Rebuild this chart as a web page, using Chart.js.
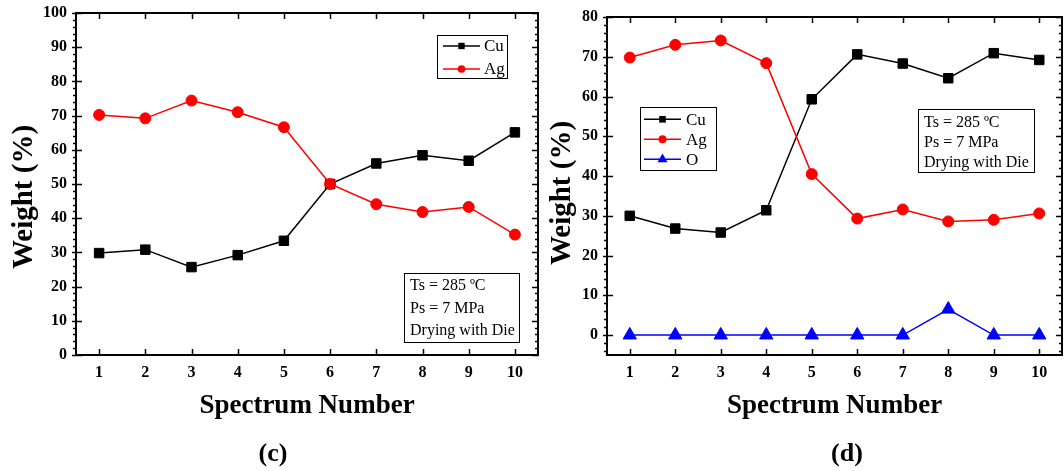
<!DOCTYPE html>
<html>
<head>
<meta charset="utf-8">
<script src="https://cdn.jsdelivr.net/npm/chart.js@4.4.1/dist/chart.umd.min.js"></script>
<style>
  html, body { margin: 0; padding: 0; background: #fff; }
  #wrap { position: relative; width: 1064px; height: 471px; overflow: hidden; background: #fff; }
  canvas { position: absolute; top: 0; }
</style>
</head>
<body>
<div id="wrap">
  <canvas id="chartC" width="540" height="471" style="left:0px"></canvas>
  <canvas id="chartD" width="524" height="471" style="left:540px"></canvas>
</div>
<script>
// Spectrum positions along the sample
const spectrumNumbers = ['1', '2', '3', '4', '5', '6', '7', '8', '9', '10'];

// Panel (c): element weight fractions (%)
const cuC = [29.8, 30.8, 25.7, 29.2, 33.4, 50.0, 56.0, 58.4, 56.8, 65.1];
const agC = [70.2, 69.2, 74.4, 71.0, 66.6, 50.0, 44.1, 41.8, 43.3, 35.2];

// Panel (d): element weight fractions (%)
const cuD = [30.0, 26.8, 25.8, 31.4, 59.3, 70.6, 68.3, 64.6, 70.9, 69.2];
const agD = [69.8, 73.0, 74.1, 68.4, 40.5, 29.3, 31.6, 28.6, 29.0, 30.6];
const oD  = [0, 0, 0, 0, 0, 0, 0, 6.5, 0, 0];

// Y-axis tick labels
const yTicksC = [0, 10, 20, 30, 40, 50, 60, 70, 80, 90, 100];
const yTicksD = [0, 10, 20, 30, 40, 50, 60, 70, 80];

// Process conditions note
const conditionLines = ['Ts = 285 \u00BAC', 'Ps = 7 MPa', 'Drying with Die'];

const SERIF = '"Liberation Serif", "Times New Roman", Times, serif';

function drawMarker(ctx, style, r, x, y) {
  ctx.beginPath();
  if (style === 'rect') {
    const s = r * Math.SQRT1_2;
    ctx.rect(x - s, y - s, 2 * s, 2 * s);
  } else if (style === 'triangle') {
    ctx.moveTo(x, y - r);
    ctx.lineTo(x + r * Math.sin(2 * Math.PI / 3), y + r / 2);
    ctx.lineTo(x - r * Math.sin(2 * Math.PI / 3), y + r / 2);
    ctx.closePath();
  } else {
    ctx.arc(x, y, r, 0, Math.PI * 2);
  }
  ctx.fill();
}

function line(ctx, x0, y0, x1, y1) {
  ctx.beginPath();
  ctx.moveTo(x0, y0);
  ctx.lineTo(x1, y1);
  ctx.stroke();
}

// Frame, tick marks, titles, legend box and notes box
const panelDecor = {
  id: 'panelDecor',
  beforeDatasetsDraw(chart, args, o) {
    const ctx = chart.ctx;
    const { left, right, top, bottom } = chart.chartArea;
    const xs = chart.scales.x, ys = chart.scales.y;
    ctx.save();
    ctx.strokeStyle = '#000';
    ctx.lineWidth = 1.5;
    xs.ticks.forEach((t, i) => {
      const px = Math.round(xs.getPixelForTick(i)) + 0.5;
      line(ctx, px, bottom, px, bottom - 6);
      line(ctx, px, top, px, top + 6);
    });
    const majors = ys.ticks.map(t => t.value);
    majors.forEach(v => {
      const py = Math.round(ys.getPixelForValue(v)) + 0.5;
      line(ctx, left - 4, py, left + 6, py);
      line(ctx, right - 6, py, right, py);
    });
    const step = o.minorStep;
    for (let v = Math.ceil(ys.min / step) * step; v <= ys.max + 1e-9; v += step) {
      if (majors.some(m => Math.abs(m - v) < 1e-6)) continue;
      const py = Math.round(ys.getPixelForValue(v)) + 0.5;
      line(ctx, left - 3, py, left, py);
      line(ctx, right - 3, py, right, py);
    }
    ctx.lineWidth = 2;
    ctx.strokeRect(left, top, right - left, bottom - top);
    ctx.restore();
  },
  afterDraw(chart, args, o) {
    const ctx = chart.ctx;
    const { left, right } = chart.chartArea;
    ctx.save();
    ctx.fillStyle = '#000';

    // axis titles
    ctx.font = 'bold 29px ' + SERIF;
    ctx.textAlign = 'center';
    ctx.textBaseline = 'alphabetic';
    ctx.save();
    ctx.translate(o.yTitleX, o.yTitleY);
    ctx.rotate(-Math.PI / 2);
    ctx.fillText('Weight (%)', 0, 0);
    ctx.restore();
    ctx.font = 'bold 27px ' + SERIF;
    ctx.fillText('Spectrum Number', (left + right) / 2, o.xTitleY);
    ctx.font = 'bold 26px ' + SERIF;
    ctx.fillText(o.tag, o.tagX, o.tagY);

    // legend
    const L = o.legend;
    ctx.lineWidth = 1;
    ctx.strokeStyle = '#000';
    ctx.strokeRect(L.x0 + 0.5, L.y0 + 0.5, L.x1 - L.x0, L.y1 - L.y0);
    ctx.font = '17px ' + SERIF;
    ctx.textAlign = 'left';
    ctx.textBaseline = 'middle';
    chart.data.datasets.forEach((ds, i) => {
      const ry = L.rows[i];
      ctx.strokeStyle = ds.borderColor;
      ctx.lineWidth = 1.5;
      line(ctx, L.lx0, ry, L.lx1, ry);
      ctx.fillStyle = ds.backgroundColor;
      drawMarker(ctx, ds.pointStyle, L.radius[ds.pointStyle], (L.lx0 + L.lx1) / 2, ry);
      ctx.fillStyle = '#000';
      ctx.fillText(ds.label, L.tx, ry + 1);
    });

    // process conditions
    const N = o.note;
    ctx.strokeStyle = '#000';
    ctx.lineWidth = 1;
    ctx.strokeRect(N.x0 + 0.5, N.y0 + 0.5, N.x1 - N.x0, N.y1 - N.y0);
    ctx.font = '16px ' + SERIF;
    conditionLines.forEach((s, i) => ctx.fillText(s, N.tx, N.rows[i] + 1));
    ctx.restore();
  }
};

function axisFont() {
  return { family: SERIF, size: 16, weight: 'bold' };
}

function makeChart(id, datasets, yMin, yMax, yTicks, geom, decor) {
  return new Chart(document.getElementById(id), {
    type: 'line',
    data: { labels: spectrumNumbers, datasets },
    options: {
      responsive: false,
      animation: false,
      devicePixelRatio: 1,
      layout: { autoPadding: false, padding: { top: geom.top, right: geom.right, left: 0, bottom: 0 } },
      plugins: { legend: { display: false }, tooltip: { enabled: false }, panelDecor: decor },
      scales: {
        x: {
          type: 'category',
          offset: true,
          grid: { display: false, drawTicks: false },
          border: { display: false },
          ticks: { color: '#000', font: axisFont(), padding: 8, maxRotation: 0, autoSkip: false },
          afterFit(s) {
            s.height = 471 - geom.bottom;
            s.paddingLeft = 0; s.paddingRight = 0;
          }
        },
        y: {
          type: 'linear',
          min: yMin,
          max: yMax,
          grid: { display: false, drawTicks: false },
          border: { display: false },
          ticks: { color: '#000', font: axisFont(), padding: 9 },
          afterBuildTicks(s) { s.ticks = yTicks.map(v => ({ value: v })); },
          afterFit(s) {
            s.width = geom.left;
            s.paddingTop = 0; s.paddingBottom = 0;
          }
        }
      }
    },
    plugins: [panelDecor]
  });
}

function series(label, data, color, style, radius, order) {
  return {
    label, data,
    borderColor: color, backgroundColor: color,
    borderWidth: 1.5,
    pointStyle: style, pointRadius: radius, pointBorderWidth: 1,
    pointBackgroundColor: color, pointBorderColor: color,
    tension: 0, order, clip: false
  };
}

makeChart('chartC', [
  series('Cu', cuC, '#000000', 'rect', 6.7, 3),
  series('Ag', agC, '#ff0000', 'circle', 5.5, 2)
], 0, 100, yTicksC,
{ left: 76, right: 2, top: 13, bottom: 355 },
{
  minorStep: 2,
  yTitleX: 32, yTitleY: 197,
  xTitleY: 413, tag: '(c)', tagX: 273, tagY: 461,
  legend: { x0: 437, y0: 35, x1: 507, y1: 78, rows: [46, 69], lx0: 443, lx1: 480, tx: 484,
            radius: { rect: 4.5, circle: 3.8, triangle: 5.8 } },
  note: { x0: 404, y0: 273, x1: 519, y1: 342, tx: 410, rows: [285, 307.5, 330] }
});

makeChart('chartD', [
  series('Cu', cuD, '#000000', 'rect', 6.7, 3),
  series('Ag', agD, '#ff0000', 'circle', 5.5, 2),
  series('O', oD, '#0000ff', 'triangle', 7.7, 1)
], -5, 80, yTicksD,
{ left: 67, right: 2, top: 17, bottom: 355 },
{
  minorStep: 2,
  yTitleX: 30, yTitleY: 193,
  xTitleY: 413, tag: '(d)', tagX: 307, tagY: 461,
  legend: { x0: 100, y0: 107, x1: 176, y1: 170, rows: [119.3, 139.3, 159.3], lx0: 104, lx1: 141, tx: 146,
            radius: { rect: 4.7, circle: 4, triangle: 5.8 } },
  note: { x0: 378, y0: 109, x1: 494, y1: 172, tx: 384, rows: [121.7, 141.7, 161.7] }
});
</script>
</body>
</html>
